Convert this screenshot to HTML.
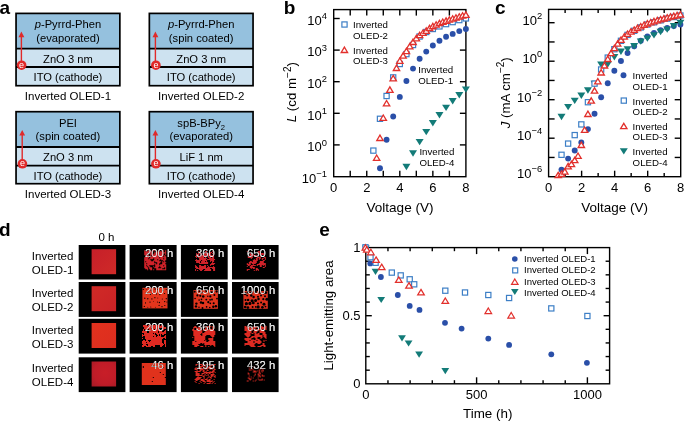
<!DOCTYPE html>
<html><head><meta charset="utf-8"><style>
html,body{margin:0;padding:0;background:#fff;width:685px;height:421px;overflow:hidden}
svg{display:block;will-change:transform}
text{font-family:"Liberation Sans", sans-serif}
</style></head><body>
<svg width="685" height="421" viewBox="0 0 685 421" font-family='"Liberation Sans", sans-serif'>
<rect width="685" height="421" fill="#fff"/>
<text x="-0.60" y="13.90" font-size="19" text-anchor="start" font-weight="bold" fill="#000">a</text>
<text x="283.70" y="13.90" font-size="19" text-anchor="start" font-weight="bold" fill="#000">b</text>
<text x="495.00" y="13.90" font-size="19" text-anchor="start" font-weight="bold" fill="#000">c</text>
<text x="-0.90" y="235.70" font-size="19" text-anchor="start" font-weight="bold" fill="#000">d</text>
<text x="319.20" y="236.10" font-size="19" text-anchor="start" font-weight="bold" fill="#000">e</text>
<rect x="16.05" y="13.4" width="103.8" height="35.2" fill="#95c1de"/>
<rect x="16.05" y="48.6" width="103.8" height="37.1" fill="#cde2f0"/>
<rect x="16.05" y="13.4" width="103.8" height="72.3" fill="none" stroke="#000" stroke-width="1.7"/>
<line x1="16.05" y1="48.60" x2="119.85" y2="48.60" stroke="#000" stroke-width="1.8"/>
<line x1="16.05" y1="67.00" x2="119.85" y2="67.00" stroke="#000" stroke-width="1.8"/>
<text x="67.95" y="28.20" font-size="11.2" text-anchor="middle" fill="#000"><tspan font-style="italic">p</tspan>-Pyrrd-Phen</text>
<text x="67.95" y="42.10" font-size="11.2" text-anchor="middle" fill="#000">(evaporated)</text>
<text x="67.95" y="62.50" font-size="11.2" text-anchor="middle" fill="#000">ZnO 3 nm</text>
<text x="67.95" y="81.00" font-size="11.2" text-anchor="middle" fill="#000">ITO (cathode)</text>
<text x="67.95" y="99.80" font-size="11.5" text-anchor="middle" fill="#000">Inverted OLED-1</text>
<line x1="21.40" y1="65.20" x2="21.40" y2="35.40" stroke="#e02a2a" stroke-width="1.4"/>
<path d="M18.50,37.20 L21.40,31.60 L24.30,37.20 Z" fill="#e02a2a"/>
<circle cx="21.60" cy="65.20" r="4.8" fill="#e02a2a"/>
<text x="21.60" y="67.70" font-size="9" text-anchor="middle" fill="#fff">e</text>
<rect x="149.35" y="13.4" width="103.70000000000002" height="35.2" fill="#95c1de"/>
<rect x="149.35" y="48.6" width="103.70000000000002" height="37.1" fill="#cde2f0"/>
<rect x="149.35" y="13.4" width="103.70000000000002" height="72.3" fill="none" stroke="#000" stroke-width="1.7"/>
<line x1="149.35" y1="48.60" x2="253.05" y2="48.60" stroke="#000" stroke-width="1.8"/>
<line x1="149.35" y1="67.00" x2="253.05" y2="67.00" stroke="#000" stroke-width="1.8"/>
<text x="201.20" y="28.20" font-size="11.2" text-anchor="middle" fill="#000"><tspan font-style="italic">p</tspan>-Pyrrd-Phen</text>
<text x="201.20" y="42.10" font-size="11.2" text-anchor="middle" fill="#000">(spin coated)</text>
<text x="201.20" y="62.50" font-size="11.2" text-anchor="middle" fill="#000">ZnO 3 nm</text>
<text x="201.20" y="81.00" font-size="11.2" text-anchor="middle" fill="#000">ITO (cathode)</text>
<text x="201.20" y="99.80" font-size="11.5" text-anchor="middle" fill="#000">Inverted OLED-2</text>
<line x1="155.40" y1="65.20" x2="155.40" y2="35.40" stroke="#e02a2a" stroke-width="1.4"/>
<path d="M152.50,37.20 L155.40,31.60 L158.30,37.20 Z" fill="#e02a2a"/>
<circle cx="155.90" cy="65.20" r="4.8" fill="#e02a2a"/>
<text x="155.90" y="67.70" font-size="9" text-anchor="middle" fill="#fff">e</text>
<rect x="16.05" y="111.7" width="103.8" height="35.3" fill="#95c1de"/>
<rect x="16.05" y="147.0" width="103.8" height="36.69999999999999" fill="#cde2f0"/>
<rect x="16.05" y="111.7" width="103.8" height="71.99999999999999" fill="none" stroke="#000" stroke-width="1.7"/>
<line x1="16.05" y1="147.00" x2="119.85" y2="147.00" stroke="#000" stroke-width="1.8"/>
<line x1="16.05" y1="165.60" x2="119.85" y2="165.60" stroke="#000" stroke-width="1.8"/>
<text x="67.95" y="126.50" font-size="11.2" text-anchor="middle" fill="#000">PEI</text>
<text x="67.95" y="140.40" font-size="11.2" text-anchor="middle" fill="#000">(spin coated)</text>
<text x="67.95" y="160.90" font-size="11.2" text-anchor="middle" fill="#000">ZnO 3 nm</text>
<text x="67.95" y="179.60" font-size="11.2" text-anchor="middle" fill="#000">ITO (cathode)</text>
<text x="67.95" y="197.80" font-size="11.5" text-anchor="middle" fill="#000">Inverted OLED-3</text>
<line x1="22.20" y1="163.80" x2="22.20" y2="133.70" stroke="#e02a2a" stroke-width="1.4"/>
<path d="M19.30,135.50 L22.20,129.90 L25.10,135.50 Z" fill="#e02a2a"/>
<circle cx="22.40" cy="163.80" r="4.8" fill="#e02a2a"/>
<text x="22.40" y="166.30" font-size="9" text-anchor="middle" fill="#fff">e</text>
<rect x="149.35" y="111.7" width="103.70000000000002" height="35.3" fill="#95c1de"/>
<rect x="149.35" y="147.0" width="103.70000000000002" height="36.69999999999999" fill="#cde2f0"/>
<rect x="149.35" y="111.7" width="103.70000000000002" height="71.99999999999999" fill="none" stroke="#000" stroke-width="1.7"/>
<line x1="149.35" y1="147.00" x2="253.05" y2="147.00" stroke="#000" stroke-width="1.8"/>
<line x1="149.35" y1="165.60" x2="253.05" y2="165.60" stroke="#000" stroke-width="1.8"/>
<text x="201.20" y="126.50" font-size="11.2" text-anchor="middle" fill="#000">spB-BPy<tspan font-size="7.6" dy="3.2">2</tspan></text>
<text x="201.20" y="140.40" font-size="11.2" text-anchor="middle" fill="#000">(evaporated)</text>
<text x="201.20" y="160.90" font-size="11.2" text-anchor="middle" fill="#000">LiF 1 nm</text>
<text x="201.20" y="179.60" font-size="11.2" text-anchor="middle" fill="#000">ITO (cathode)</text>
<text x="201.20" y="197.80" font-size="11.5" text-anchor="middle" fill="#000">Inverted OLED-4</text>
<line x1="155.40" y1="163.80" x2="155.40" y2="133.70" stroke="#e02a2a" stroke-width="1.4"/>
<path d="M152.50,135.50 L155.40,129.90 L158.30,135.50 Z" fill="#e02a2a"/>
<circle cx="155.90" cy="163.80" r="4.8" fill="#e02a2a"/>
<text x="155.90" y="166.30" font-size="9" text-anchor="middle" fill="#fff">e</text>
<rect x="333.7" y="9.6" width="132.2" height="167.1" fill="none" stroke="#000" stroke-width="1.4"/>
<text x="327.0" y="182.80" font-size="13" text-anchor="end">10<tspan font-size="9.4" dy="-5.7">−1</tspan></text>
<line x1="333.70" y1="144.90" x2="339.70" y2="144.90" stroke="#000" stroke-width="1.4"/>
<line x1="459.90" y1="144.90" x2="465.90" y2="144.90" stroke="#000" stroke-width="1.4"/>
<text x="327.0" y="151.20" font-size="13" text-anchor="end">10<tspan font-size="9.4" dy="-5.7">0</tspan></text>
<line x1="333.70" y1="113.30" x2="339.70" y2="113.30" stroke="#000" stroke-width="1.4"/>
<line x1="459.90" y1="113.30" x2="465.90" y2="113.30" stroke="#000" stroke-width="1.4"/>
<text x="327.0" y="119.60" font-size="13" text-anchor="end">10<tspan font-size="9.4" dy="-5.7">1</tspan></text>
<line x1="333.70" y1="81.70" x2="339.70" y2="81.70" stroke="#000" stroke-width="1.4"/>
<line x1="459.90" y1="81.70" x2="465.90" y2="81.70" stroke="#000" stroke-width="1.4"/>
<text x="327.0" y="88.00" font-size="13" text-anchor="end">10<tspan font-size="9.4" dy="-5.7">2</tspan></text>
<line x1="333.70" y1="50.10" x2="339.70" y2="50.10" stroke="#000" stroke-width="1.4"/>
<line x1="459.90" y1="50.10" x2="465.90" y2="50.10" stroke="#000" stroke-width="1.4"/>
<text x="327.0" y="56.40" font-size="13" text-anchor="end">10<tspan font-size="9.4" dy="-5.7">3</tspan></text>
<line x1="333.70" y1="18.50" x2="339.70" y2="18.50" stroke="#000" stroke-width="1.4"/>
<line x1="459.90" y1="18.50" x2="465.90" y2="18.50" stroke="#000" stroke-width="1.4"/>
<text x="327.0" y="24.80" font-size="13" text-anchor="end">10<tspan font-size="9.4" dy="-5.7">4</tspan></text>
<line x1="350.22" y1="176.70" x2="350.22" y2="170.70" stroke="#000" stroke-width="1.4"/>
<line x1="350.22" y1="9.60" x2="350.22" y2="15.60" stroke="#000" stroke-width="1.4"/>
<line x1="366.75" y1="176.70" x2="366.75" y2="170.70" stroke="#000" stroke-width="1.4"/>
<line x1="366.75" y1="9.60" x2="366.75" y2="15.60" stroke="#000" stroke-width="1.4"/>
<line x1="383.27" y1="176.70" x2="383.27" y2="170.70" stroke="#000" stroke-width="1.4"/>
<line x1="383.27" y1="9.60" x2="383.27" y2="15.60" stroke="#000" stroke-width="1.4"/>
<line x1="399.80" y1="176.70" x2="399.80" y2="170.70" stroke="#000" stroke-width="1.4"/>
<line x1="399.80" y1="9.60" x2="399.80" y2="15.60" stroke="#000" stroke-width="1.4"/>
<line x1="416.32" y1="176.70" x2="416.32" y2="170.70" stroke="#000" stroke-width="1.4"/>
<line x1="416.32" y1="9.60" x2="416.32" y2="15.60" stroke="#000" stroke-width="1.4"/>
<line x1="432.85" y1="176.70" x2="432.85" y2="170.70" stroke="#000" stroke-width="1.4"/>
<line x1="432.85" y1="9.60" x2="432.85" y2="15.60" stroke="#000" stroke-width="1.4"/>
<line x1="449.38" y1="176.70" x2="449.38" y2="170.70" stroke="#000" stroke-width="1.4"/>
<line x1="449.38" y1="9.60" x2="449.38" y2="15.60" stroke="#000" stroke-width="1.4"/>
<path d="M402.41,163.80 L410.41,163.80 L406.41,170.20 Z" fill="#137b78"/>
<path d="M409.02,150.30 L417.02,150.30 L413.02,156.70 Z" fill="#137b78"/>
<path d="M415.63,138.90 L423.63,138.90 L419.63,145.30 Z" fill="#137b78"/>
<path d="M422.24,128.90 L430.24,128.90 L426.24,135.30 Z" fill="#137b78"/>
<path d="M428.85,120.10 L436.85,120.10 L432.85,126.50 Z" fill="#137b78"/>
<path d="M435.46,112.00 L443.46,112.00 L439.46,118.40 Z" fill="#137b78"/>
<path d="M442.07,104.70 L450.07,104.70 L446.07,111.10 Z" fill="#137b78"/>
<path d="M448.68,98.10 L456.68,98.10 L452.68,104.50 Z" fill="#137b78"/>
<path d="M455.29,92.10 L463.29,92.10 L459.29,98.50 Z" fill="#137b78"/>
<path d="M461.90,86.40 L469.90,86.40 L465.90,92.80 Z" fill="#137b78"/>
<circle cx="379.97" cy="168.20" r="2.95" fill="#2a4fa8"/>
<circle cx="386.58" cy="139.70" r="2.95" fill="#2a4fa8"/>
<circle cx="393.19" cy="116.50" r="2.95" fill="#2a4fa8"/>
<circle cx="399.80" cy="96.90" r="2.95" fill="#2a4fa8"/>
<circle cx="406.41" cy="81.00" r="2.95" fill="#2a4fa8"/>
<circle cx="413.02" cy="68.60" r="2.95" fill="#2a4fa8"/>
<circle cx="419.63" cy="58.80" r="2.95" fill="#2a4fa8"/>
<circle cx="426.24" cy="51.60" r="2.95" fill="#2a4fa8"/>
<circle cx="432.85" cy="45.50" r="2.95" fill="#2a4fa8"/>
<circle cx="439.46" cy="40.80" r="2.95" fill="#2a4fa8"/>
<circle cx="446.07" cy="36.80" r="2.95" fill="#2a4fa8"/>
<circle cx="452.68" cy="33.90" r="2.95" fill="#2a4fa8"/>
<circle cx="459.29" cy="31.10" r="2.95" fill="#2a4fa8"/>
<circle cx="465.90" cy="29.00" r="2.95" fill="#2a4fa8"/>
<rect x="370.76" y="148.00" width="5.2" height="5.2" fill="#fff" stroke="#3d7fc6" stroke-width="1.2"/>
<rect x="377.37" y="116.20" width="5.2" height="5.2" fill="#fff" stroke="#3d7fc6" stroke-width="1.2"/>
<rect x="383.98" y="93.40" width="5.2" height="5.2" fill="#fff" stroke="#3d7fc6" stroke-width="1.2"/>
<rect x="390.59" y="74.80" width="5.2" height="5.2" fill="#fff" stroke="#3d7fc6" stroke-width="1.2"/>
<rect x="397.20" y="61.40" width="5.2" height="5.2" fill="#fff" stroke="#3d7fc6" stroke-width="1.2"/>
<rect x="403.81" y="51.50" width="5.2" height="5.2" fill="#fff" stroke="#3d7fc6" stroke-width="1.2"/>
<rect x="410.42" y="42.40" width="5.2" height="5.2" fill="#fff" stroke="#3d7fc6" stroke-width="1.2"/>
<rect x="417.03" y="33.90" width="5.2" height="5.2" fill="#fff" stroke="#3d7fc6" stroke-width="1.2"/>
<rect x="423.64" y="29.40" width="5.2" height="5.2" fill="#fff" stroke="#3d7fc6" stroke-width="1.2"/>
<rect x="430.25" y="26.40" width="5.2" height="5.2" fill="#fff" stroke="#3d7fc6" stroke-width="1.2"/>
<rect x="436.86" y="23.80" width="5.2" height="5.2" fill="#fff" stroke="#3d7fc6" stroke-width="1.2"/>
<rect x="443.47" y="21.50" width="5.2" height="5.2" fill="#fff" stroke="#3d7fc6" stroke-width="1.2"/>
<rect x="450.08" y="19.50" width="5.2" height="5.2" fill="#fff" stroke="#3d7fc6" stroke-width="1.2"/>
<rect x="456.69" y="17.50" width="5.2" height="5.2" fill="#fff" stroke="#3d7fc6" stroke-width="1.2"/>
<rect x="463.30" y="15.80" width="5.2" height="5.2" fill="#fff" stroke="#3d7fc6" stroke-width="1.2"/>
<path d="M376.66,155.00 L379.86,160.40 L373.46,160.40 Z" fill="#fff" stroke="#e2302c" stroke-width="1.3" stroke-linejoin="miter"/>
<path d="M379.97,135.10 L383.17,140.50 L376.77,140.50 Z" fill="#fff" stroke="#e2302c" stroke-width="1.3" stroke-linejoin="miter"/>
<path d="M383.27,115.00 L386.47,120.40 L380.07,120.40 Z" fill="#fff" stroke="#e2302c" stroke-width="1.3" stroke-linejoin="miter"/>
<path d="M386.58,100.50 L389.78,105.90 L383.38,105.90 Z" fill="#fff" stroke="#e2302c" stroke-width="1.3" stroke-linejoin="miter"/>
<path d="M389.88,86.90 L393.08,92.30 L386.69,92.30 Z" fill="#fff" stroke="#e2302c" stroke-width="1.3" stroke-linejoin="miter"/>
<path d="M393.19,75.40 L396.39,80.80 L389.99,80.80 Z" fill="#fff" stroke="#e2302c" stroke-width="1.3" stroke-linejoin="miter"/>
<path d="M396.50,65.10 L399.69,70.50 L393.30,70.50 Z" fill="#fff" stroke="#e2302c" stroke-width="1.3" stroke-linejoin="miter"/>
<path d="M399.80,58.00 L403.00,63.40 L396.60,63.40 Z" fill="#fff" stroke="#e2302c" stroke-width="1.3" stroke-linejoin="miter"/>
<path d="M403.11,52.80 L406.31,58.20 L399.91,58.20 Z" fill="#fff" stroke="#e2302c" stroke-width="1.3" stroke-linejoin="miter"/>
<path d="M406.41,48.20 L409.61,53.60 L403.21,53.60 Z" fill="#fff" stroke="#e2302c" stroke-width="1.3" stroke-linejoin="miter"/>
<path d="M409.71,43.44 L412.91,48.84 L406.51,48.84 Z" fill="#fff" stroke="#e2302c" stroke-width="1.3" stroke-linejoin="miter"/>
<path d="M413.02,39.10 L416.22,44.50 L409.82,44.50 Z" fill="#fff" stroke="#e2302c" stroke-width="1.3" stroke-linejoin="miter"/>
<path d="M416.32,35.39 L419.52,40.79 L413.12,40.79 Z" fill="#fff" stroke="#e2302c" stroke-width="1.3" stroke-linejoin="miter"/>
<path d="M419.63,32.30 L422.83,37.70 L416.43,37.70 Z" fill="#fff" stroke="#e2302c" stroke-width="1.3" stroke-linejoin="miter"/>
<path d="M422.94,30.03 L426.13,35.43 L419.74,35.43 Z" fill="#fff" stroke="#e2302c" stroke-width="1.3" stroke-linejoin="miter"/>
<path d="M426.24,27.90 L429.44,33.30 L423.04,33.30 Z" fill="#fff" stroke="#e2302c" stroke-width="1.3" stroke-linejoin="miter"/>
<path d="M429.54,25.30 L432.74,30.70 L426.34,30.70 Z" fill="#fff" stroke="#e2302c" stroke-width="1.3" stroke-linejoin="miter"/>
<path d="M432.85,23.37 L436.05,28.77 L429.65,28.77 Z" fill="#fff" stroke="#e2302c" stroke-width="1.3" stroke-linejoin="miter"/>
<path d="M436.15,21.74 L439.35,27.14 L432.95,27.14 Z" fill="#fff" stroke="#e2302c" stroke-width="1.3" stroke-linejoin="miter"/>
<path d="M439.46,20.30 L442.66,25.70 L436.26,25.70 Z" fill="#fff" stroke="#e2302c" stroke-width="1.3" stroke-linejoin="miter"/>
<path d="M442.76,19.03 L445.96,24.43 L439.56,24.43 Z" fill="#fff" stroke="#e2302c" stroke-width="1.3" stroke-linejoin="miter"/>
<path d="M446.07,17.90 L449.27,23.30 L442.87,23.30 Z" fill="#fff" stroke="#e2302c" stroke-width="1.3" stroke-linejoin="miter"/>
<path d="M449.38,16.80 L452.57,22.20 L446.18,22.20 Z" fill="#fff" stroke="#e2302c" stroke-width="1.3" stroke-linejoin="miter"/>
<path d="M452.68,15.74 L455.88,21.14 L449.48,21.14 Z" fill="#fff" stroke="#e2302c" stroke-width="1.3" stroke-linejoin="miter"/>
<path d="M455.99,14.71 L459.19,20.11 L452.79,20.11 Z" fill="#fff" stroke="#e2302c" stroke-width="1.3" stroke-linejoin="miter"/>
<path d="M459.29,13.72 L462.49,19.12 L456.09,19.12 Z" fill="#fff" stroke="#e2302c" stroke-width="1.3" stroke-linejoin="miter"/>
<path d="M462.59,12.78 L465.79,18.18 L459.39,18.18 Z" fill="#fff" stroke="#e2302c" stroke-width="1.3" stroke-linejoin="miter"/>
<path d="M465.90,11.90 L469.10,17.30 L462.70,17.30 Z" fill="#fff" stroke="#e2302c" stroke-width="1.3" stroke-linejoin="miter"/>
<text x="333.70" y="192.40" font-size="13" text-anchor="middle" fill="#000">0</text>
<text x="366.75" y="192.40" font-size="13" text-anchor="middle" fill="#000">2</text>
<text x="399.80" y="192.40" font-size="13" text-anchor="middle" fill="#000">4</text>
<text x="432.85" y="192.40" font-size="13" text-anchor="middle" fill="#000">6</text>
<text x="465.90" y="192.40" font-size="13" text-anchor="middle" fill="#000">8</text>
<text x="400.00" y="211.70" font-size="13.55" text-anchor="middle" fill="#000">Voltage (V)</text>
<text transform="translate(296.2,92.2) rotate(-90)" font-size="13.3" text-anchor="middle"><tspan font-style="italic">L</tspan> (cd m<tspan font-size="10" dy="-5.6">−2</tspan><tspan dy="5.6">)</tspan></text>
<rect x="341.90" y="21.90" width="5.2" height="5.2" fill="#fff" stroke="#3d7fc6" stroke-width="1.2"/>
<text x="353.00" y="27.80" font-size="9.7" text-anchor="start" fill="#000">Inverted</text>
<text x="353.00" y="39.00" font-size="9.7" text-anchor="start" fill="#000">OLED-2</text>
<path d="M344.40,47.10 L347.60,52.50 L341.20,52.50 Z" fill="#fff" stroke="#e2302c" stroke-width="1.3" stroke-linejoin="miter"/>
<text x="353.00" y="53.50" font-size="9.7" text-anchor="start" fill="#000">Inverted</text>
<text x="353.00" y="64.20" font-size="9.7" text-anchor="start" fill="#000">OLED-3</text>
<text x="418.20" y="72.60" font-size="9.7" text-anchor="start" fill="#000">Inverted</text>
<text x="418.20" y="84.10" font-size="9.7" text-anchor="start" fill="#000">OLED-1</text>
<text x="419.40" y="154.90" font-size="9.7" text-anchor="start" fill="#000">Inverted</text>
<text x="419.40" y="165.90" font-size="9.7" text-anchor="start" fill="#000">OLED-4</text>
<rect x="548.6" y="9.4" width="132.10000000000002" height="167.29999999999998" fill="none" stroke="#000" stroke-width="1.4"/>
<line x1="548.60" y1="157.45" x2="554.60" y2="157.45" stroke="#000" stroke-width="1.4"/>
<line x1="674.70" y1="157.45" x2="680.70" y2="157.45" stroke="#000" stroke-width="1.4"/>
<line x1="548.60" y1="138.20" x2="554.60" y2="138.20" stroke="#000" stroke-width="1.4"/>
<line x1="674.70" y1="138.20" x2="680.70" y2="138.20" stroke="#000" stroke-width="1.4"/>
<line x1="548.60" y1="118.95" x2="554.60" y2="118.95" stroke="#000" stroke-width="1.4"/>
<line x1="674.70" y1="118.95" x2="680.70" y2="118.95" stroke="#000" stroke-width="1.4"/>
<line x1="548.60" y1="99.70" x2="554.60" y2="99.70" stroke="#000" stroke-width="1.4"/>
<line x1="674.70" y1="99.70" x2="680.70" y2="99.70" stroke="#000" stroke-width="1.4"/>
<line x1="548.60" y1="80.45" x2="554.60" y2="80.45" stroke="#000" stroke-width="1.4"/>
<line x1="674.70" y1="80.45" x2="680.70" y2="80.45" stroke="#000" stroke-width="1.4"/>
<line x1="548.60" y1="61.20" x2="554.60" y2="61.20" stroke="#000" stroke-width="1.4"/>
<line x1="674.70" y1="61.20" x2="680.70" y2="61.20" stroke="#000" stroke-width="1.4"/>
<line x1="548.60" y1="41.95" x2="554.60" y2="41.95" stroke="#000" stroke-width="1.4"/>
<line x1="674.70" y1="41.95" x2="680.70" y2="41.95" stroke="#000" stroke-width="1.4"/>
<line x1="548.60" y1="22.70" x2="554.60" y2="22.70" stroke="#000" stroke-width="1.4"/>
<line x1="674.70" y1="22.70" x2="680.70" y2="22.70" stroke="#000" stroke-width="1.4"/>
<text x="542.2" y="24.50" font-size="13" text-anchor="end">10<tspan font-size="9.4" dy="-5.7">2</tspan></text>
<text x="542.2" y="63.00" font-size="13" text-anchor="end">10<tspan font-size="9.4" dy="-5.7">0</tspan></text>
<text x="542.2" y="101.50" font-size="13" text-anchor="end">10<tspan font-size="9.4" dy="-5.7">−2</tspan></text>
<text x="542.2" y="140.00" font-size="13" text-anchor="end">10<tspan font-size="9.4" dy="-5.7">−4</tspan></text>
<text x="542.2" y="177.50" font-size="13" text-anchor="end">10<tspan font-size="9.4" dy="-5.7">−6</tspan></text>
<line x1="565.11" y1="176.70" x2="565.11" y2="173.10" stroke="#000" stroke-width="1.4"/>
<line x1="565.11" y1="9.40" x2="565.11" y2="13.00" stroke="#000" stroke-width="1.4"/>
<line x1="581.62" y1="176.70" x2="581.62" y2="170.70" stroke="#000" stroke-width="1.4"/>
<line x1="581.62" y1="9.40" x2="581.62" y2="15.40" stroke="#000" stroke-width="1.4"/>
<line x1="598.14" y1="176.70" x2="598.14" y2="173.10" stroke="#000" stroke-width="1.4"/>
<line x1="598.14" y1="9.40" x2="598.14" y2="13.00" stroke="#000" stroke-width="1.4"/>
<line x1="614.65" y1="176.70" x2="614.65" y2="170.70" stroke="#000" stroke-width="1.4"/>
<line x1="614.65" y1="9.40" x2="614.65" y2="15.40" stroke="#000" stroke-width="1.4"/>
<line x1="631.16" y1="176.70" x2="631.16" y2="173.10" stroke="#000" stroke-width="1.4"/>
<line x1="631.16" y1="9.40" x2="631.16" y2="13.00" stroke="#000" stroke-width="1.4"/>
<line x1="647.68" y1="176.70" x2="647.68" y2="170.70" stroke="#000" stroke-width="1.4"/>
<line x1="647.68" y1="9.40" x2="647.68" y2="15.40" stroke="#000" stroke-width="1.4"/>
<line x1="664.19" y1="176.70" x2="664.19" y2="173.10" stroke="#000" stroke-width="1.4"/>
<line x1="664.19" y1="9.40" x2="664.19" y2="13.00" stroke="#000" stroke-width="1.4"/>
<circle cx="561.51" cy="169.60" r="2.95" fill="#2a4fa8"/>
<circle cx="568.12" cy="158.60" r="2.95" fill="#2a4fa8"/>
<circle cx="574.72" cy="150.50" r="2.95" fill="#2a4fa8"/>
<circle cx="581.33" cy="142.50" r="2.95" fill="#2a4fa8"/>
<circle cx="587.93" cy="129.10" r="2.95" fill="#2a4fa8"/>
<circle cx="594.54" cy="113.80" r="2.95" fill="#2a4fa8"/>
<circle cx="601.14" cy="97.20" r="2.95" fill="#2a4fa8"/>
<circle cx="607.75" cy="83.20" r="2.95" fill="#2a4fa8"/>
<circle cx="614.35" cy="70.80" r="2.95" fill="#2a4fa8"/>
<circle cx="620.96" cy="61.00" r="2.95" fill="#2a4fa8"/>
<circle cx="627.56" cy="53.00" r="2.95" fill="#2a4fa8"/>
<circle cx="634.17" cy="46.30" r="2.95" fill="#2a4fa8"/>
<circle cx="640.77" cy="40.80" r="2.95" fill="#2a4fa8"/>
<circle cx="647.38" cy="36.40" r="2.95" fill="#2a4fa8"/>
<circle cx="653.98" cy="33.00" r="2.95" fill="#2a4fa8"/>
<circle cx="660.59" cy="30.30" r="2.95" fill="#2a4fa8"/>
<circle cx="667.19" cy="28.00" r="2.95" fill="#2a4fa8"/>
<circle cx="673.80" cy="26.00" r="2.95" fill="#2a4fa8"/>
<circle cx="680.40" cy="24.50" r="2.95" fill="#2a4fa8"/>
<path d="M557.51,113.80 L565.51,113.80 L561.51,120.20 Z" fill="#137b78"/>
<path d="M564.12,103.90 L572.12,103.90 L568.12,110.30 Z" fill="#137b78"/>
<path d="M570.72,97.70 L578.72,97.70 L574.72,104.10 Z" fill="#137b78"/>
<path d="M577.33,92.50 L585.33,92.50 L581.33,98.90 Z" fill="#137b78"/>
<path d="M583.93,87.30 L591.93,87.30 L587.93,93.70 Z" fill="#137b78"/>
<path d="M590.54,80.80 L598.54,80.80 L594.54,87.20 Z" fill="#137b78"/>
<path d="M597.14,61.50 L605.14,61.50 L601.14,67.90 Z" fill="#137b78"/>
<path d="M603.75,61.30 L611.75,61.30 L607.75,67.70 Z" fill="#137b78"/>
<path d="M610.35,54.10 L618.35,54.10 L614.35,60.50 Z" fill="#137b78"/>
<path d="M616.96,48.60 L624.96,48.60 L620.96,55.00 Z" fill="#137b78"/>
<path d="M623.56,46.20 L631.56,46.20 L627.56,52.60 Z" fill="#137b78"/>
<path d="M630.17,43.00 L638.17,43.00 L634.17,49.40 Z" fill="#137b78"/>
<path d="M636.77,38.40 L644.77,38.40 L640.77,44.80 Z" fill="#137b78"/>
<path d="M643.38,35.40 L651.38,35.40 L647.38,41.80 Z" fill="#137b78"/>
<path d="M649.98,32.20 L657.98,32.20 L653.98,38.60 Z" fill="#137b78"/>
<path d="M656.59,28.80 L664.59,28.80 L660.59,35.20 Z" fill="#137b78"/>
<path d="M663.19,26.40 L671.19,26.40 L667.19,32.80 Z" fill="#137b78"/>
<path d="M669.80,23.00 L677.80,23.00 L673.80,29.40 Z" fill="#137b78"/>
<path d="M676.40,19.80 L684.40,19.80 L680.40,26.20 Z" fill="#137b78"/>
<rect x="558.91" y="152.20" width="5.2" height="5.2" fill="#fff" stroke="#3d7fc6" stroke-width="1.2"/>
<rect x="565.52" y="141.00" width="5.2" height="5.2" fill="#fff" stroke="#3d7fc6" stroke-width="1.2"/>
<rect x="572.12" y="132.50" width="5.2" height="5.2" fill="#fff" stroke="#3d7fc6" stroke-width="1.2"/>
<rect x="578.73" y="121.80" width="5.2" height="5.2" fill="#fff" stroke="#3d7fc6" stroke-width="1.2"/>
<rect x="585.33" y="99.60" width="5.2" height="5.2" fill="#fff" stroke="#3d7fc6" stroke-width="1.2"/>
<rect x="591.94" y="81.00" width="5.2" height="5.2" fill="#fff" stroke="#3d7fc6" stroke-width="1.2"/>
<rect x="598.54" y="66.90" width="5.2" height="5.2" fill="#fff" stroke="#3d7fc6" stroke-width="1.2"/>
<rect x="605.15" y="55.00" width="5.2" height="5.2" fill="#fff" stroke="#3d7fc6" stroke-width="1.2"/>
<rect x="611.75" y="46.60" width="5.2" height="5.2" fill="#fff" stroke="#3d7fc6" stroke-width="1.2"/>
<rect x="618.36" y="38.20" width="5.2" height="5.2" fill="#fff" stroke="#3d7fc6" stroke-width="1.2"/>
<rect x="624.96" y="32.30" width="5.2" height="5.2" fill="#fff" stroke="#3d7fc6" stroke-width="1.2"/>
<rect x="631.57" y="28.20" width="5.2" height="5.2" fill="#fff" stroke="#3d7fc6" stroke-width="1.2"/>
<rect x="638.17" y="24.80" width="5.2" height="5.2" fill="#fff" stroke="#3d7fc6" stroke-width="1.2"/>
<rect x="644.78" y="21.90" width="5.2" height="5.2" fill="#fff" stroke="#3d7fc6" stroke-width="1.2"/>
<rect x="651.38" y="19.70" width="5.2" height="5.2" fill="#fff" stroke="#3d7fc6" stroke-width="1.2"/>
<rect x="657.99" y="17.70" width="5.2" height="5.2" fill="#fff" stroke="#3d7fc6" stroke-width="1.2"/>
<rect x="664.59" y="16.00" width="5.2" height="5.2" fill="#fff" stroke="#3d7fc6" stroke-width="1.2"/>
<rect x="671.20" y="14.40" width="5.2" height="5.2" fill="#fff" stroke="#3d7fc6" stroke-width="1.2"/>
<rect x="677.80" y="12.90" width="5.2" height="5.2" fill="#fff" stroke="#3d7fc6" stroke-width="1.2"/>
<path d="M558.21,172.30 L561.41,177.70 L555.01,177.70 Z" fill="#fff" stroke="#e2302c" stroke-width="1.3" stroke-linejoin="miter"/>
<path d="M561.51,170.90 L564.71,176.30 L558.31,176.30 Z" fill="#fff" stroke="#e2302c" stroke-width="1.3" stroke-linejoin="miter"/>
<path d="M564.81,168.70 L568.01,174.10 L561.61,174.10 Z" fill="#fff" stroke="#e2302c" stroke-width="1.3" stroke-linejoin="miter"/>
<path d="M568.12,163.40 L571.32,168.80 L564.92,168.80 Z" fill="#fff" stroke="#e2302c" stroke-width="1.3" stroke-linejoin="miter"/>
<path d="M571.42,161.20 L574.62,166.60 L568.22,166.60 Z" fill="#fff" stroke="#e2302c" stroke-width="1.3" stroke-linejoin="miter"/>
<path d="M574.72,157.30 L577.92,162.70 L571.52,162.70 Z" fill="#fff" stroke="#e2302c" stroke-width="1.3" stroke-linejoin="miter"/>
<path d="M578.02,153.00 L581.22,158.40 L574.82,158.40 Z" fill="#fff" stroke="#e2302c" stroke-width="1.3" stroke-linejoin="miter"/>
<path d="M581.33,142.10 L584.53,147.50 L578.12,147.50 Z" fill="#fff" stroke="#e2302c" stroke-width="1.3" stroke-linejoin="miter"/>
<path d="M584.63,127.00 L587.83,132.40 L581.43,132.40 Z" fill="#fff" stroke="#e2302c" stroke-width="1.3" stroke-linejoin="miter"/>
<path d="M587.93,111.10 L591.13,116.50 L584.73,116.50 Z" fill="#fff" stroke="#e2302c" stroke-width="1.3" stroke-linejoin="miter"/>
<path d="M591.23,97.80 L594.43,103.20 L588.03,103.20 Z" fill="#fff" stroke="#e2302c" stroke-width="1.3" stroke-linejoin="miter"/>
<path d="M594.54,87.80 L597.74,93.20 L591.34,93.20 Z" fill="#fff" stroke="#e2302c" stroke-width="1.3" stroke-linejoin="miter"/>
<path d="M597.84,78.50 L601.04,83.90 L594.64,83.90 Z" fill="#fff" stroke="#e2302c" stroke-width="1.3" stroke-linejoin="miter"/>
<path d="M601.14,69.60 L604.34,75.00 L597.94,75.00 Z" fill="#fff" stroke="#e2302c" stroke-width="1.3" stroke-linejoin="miter"/>
<path d="M604.44,62.60 L607.64,68.00 L601.24,68.00 Z" fill="#fff" stroke="#e2302c" stroke-width="1.3" stroke-linejoin="miter"/>
<path d="M607.75,56.10 L610.95,61.50 L604.55,61.50 Z" fill="#fff" stroke="#e2302c" stroke-width="1.3" stroke-linejoin="miter"/>
<path d="M611.05,50.30 L614.25,55.70 L607.85,55.70 Z" fill="#fff" stroke="#e2302c" stroke-width="1.3" stroke-linejoin="miter"/>
<path d="M614.35,45.30 L617.55,50.70 L611.15,50.70 Z" fill="#fff" stroke="#e2302c" stroke-width="1.3" stroke-linejoin="miter"/>
<path d="M617.65,40.80 L620.85,46.20 L614.45,46.20 Z" fill="#fff" stroke="#e2302c" stroke-width="1.3" stroke-linejoin="miter"/>
<path d="M620.96,36.90 L624.16,42.30 L617.75,42.30 Z" fill="#fff" stroke="#e2302c" stroke-width="1.3" stroke-linejoin="miter"/>
<path d="M624.26,33.70 L627.46,39.10 L621.06,39.10 Z" fill="#fff" stroke="#e2302c" stroke-width="1.3" stroke-linejoin="miter"/>
<path d="M627.56,31.00 L630.76,36.40 L624.36,36.40 Z" fill="#fff" stroke="#e2302c" stroke-width="1.3" stroke-linejoin="miter"/>
<path d="M630.86,28.80 L634.06,34.20 L627.66,34.20 Z" fill="#fff" stroke="#e2302c" stroke-width="1.3" stroke-linejoin="miter"/>
<path d="M634.17,26.90 L637.37,32.30 L630.97,32.30 Z" fill="#fff" stroke="#e2302c" stroke-width="1.3" stroke-linejoin="miter"/>
<path d="M637.47,25.10 L640.67,30.50 L634.27,30.50 Z" fill="#fff" stroke="#e2302c" stroke-width="1.3" stroke-linejoin="miter"/>
<path d="M640.77,23.50 L643.97,28.90 L637.57,28.90 Z" fill="#fff" stroke="#e2302c" stroke-width="1.3" stroke-linejoin="miter"/>
<path d="M644.07,21.90 L647.27,27.30 L640.87,27.30 Z" fill="#fff" stroke="#e2302c" stroke-width="1.3" stroke-linejoin="miter"/>
<path d="M647.38,20.60 L650.58,26.00 L644.18,26.00 Z" fill="#fff" stroke="#e2302c" stroke-width="1.3" stroke-linejoin="miter"/>
<path d="M650.68,19.50 L653.88,24.90 L647.48,24.90 Z" fill="#fff" stroke="#e2302c" stroke-width="1.3" stroke-linejoin="miter"/>
<path d="M653.98,18.40 L657.18,23.80 L650.78,23.80 Z" fill="#fff" stroke="#e2302c" stroke-width="1.3" stroke-linejoin="miter"/>
<path d="M657.28,17.40 L660.48,22.80 L654.08,22.80 Z" fill="#fff" stroke="#e2302c" stroke-width="1.3" stroke-linejoin="miter"/>
<path d="M660.59,16.40 L663.79,21.80 L657.38,21.80 Z" fill="#fff" stroke="#e2302c" stroke-width="1.3" stroke-linejoin="miter"/>
<path d="M663.89,15.60 L667.09,21.00 L660.69,21.00 Z" fill="#fff" stroke="#e2302c" stroke-width="1.3" stroke-linejoin="miter"/>
<path d="M667.19,14.70 L670.39,20.10 L663.99,20.10 Z" fill="#fff" stroke="#e2302c" stroke-width="1.3" stroke-linejoin="miter"/>
<path d="M670.49,13.80 L673.69,19.20 L667.29,19.20 Z" fill="#fff" stroke="#e2302c" stroke-width="1.3" stroke-linejoin="miter"/>
<path d="M673.80,13.10 L677.00,18.50 L670.60,18.50 Z" fill="#fff" stroke="#e2302c" stroke-width="1.3" stroke-linejoin="miter"/>
<path d="M677.10,12.40 L680.30,17.80 L673.90,17.80 Z" fill="#fff" stroke="#e2302c" stroke-width="1.3" stroke-linejoin="miter"/>
<path d="M680.40,11.60 L683.60,17.00 L677.20,17.00 Z" fill="#fff" stroke="#e2302c" stroke-width="1.3" stroke-linejoin="miter"/>
<text x="548.60" y="192.40" font-size="13" text-anchor="middle" fill="#000">0</text>
<text x="581.62" y="192.40" font-size="13" text-anchor="middle" fill="#000">2</text>
<text x="614.65" y="192.40" font-size="13" text-anchor="middle" fill="#000">4</text>
<text x="647.68" y="192.40" font-size="13" text-anchor="middle" fill="#000">6</text>
<text x="680.70" y="192.40" font-size="13" text-anchor="middle" fill="#000">8</text>
<text x="614.65" y="211.50" font-size="13.5" text-anchor="middle" fill="#000">Voltage (V)</text>
<text transform="translate(510.0,92.8) rotate(-90)" font-size="13.25" text-anchor="middle"><tspan font-style="italic">J</tspan> (mA cm<tspan font-size="10" dy="-5.6">−2</tspan><tspan dy="5.6">)</tspan></text>
<circle cx="623.50" cy="75.20" r="2.95" fill="#2a4fa8"/>
<text x="632.60" y="79.10" font-size="9.7" text-anchor="start" fill="#000">Inverted</text>
<text x="632.60" y="89.50" font-size="9.7" text-anchor="start" fill="#000">OLED-1</text>
<rect x="621.20" y="98.00" width="5.2" height="5.2" fill="#fff" stroke="#3d7fc6" stroke-width="1.2"/>
<text x="632.60" y="104.50" font-size="9.7" text-anchor="start" fill="#000">Inverted</text>
<text x="632.60" y="114.90" font-size="9.7" text-anchor="start" fill="#000">OLED-2</text>
<path d="M623.80,123.30 L627.00,128.70 L620.60,128.70 Z" fill="#fff" stroke="#e2302c" stroke-width="1.3" stroke-linejoin="miter"/>
<text x="632.60" y="129.90" font-size="9.7" text-anchor="start" fill="#000">Inverted</text>
<text x="632.60" y="140.30" font-size="9.7" text-anchor="start" fill="#000">OLED-3</text>
<path d="M619.80,148.20 L627.80,148.20 L623.80,154.60 Z" fill="#137b78"/>
<text x="632.60" y="155.30" font-size="9.7" text-anchor="start" fill="#000">Inverted</text>
<text x="632.60" y="165.70" font-size="9.7" text-anchor="start" fill="#000">OLED-4</text>
<text x="106.40" y="240.50" font-size="11.5" text-anchor="middle" fill="#000">0 h</text>
<defs><linearGradient id="zg0" x1="0" y1="0" x2="1" y2="1"><stop offset="0" stop-color="#c61f29"/><stop offset="1" stop-color="#cf2a28"/></linearGradient><linearGradient id="zg1" x1="0" y1="0" x2="1" y2="1"><stop offset="0" stop-color="#d02a26"/><stop offset="1" stop-color="#c92226"/></linearGradient><linearGradient id="zg2" x1="0" y1="0" x2="1" y2="1"><stop offset="0" stop-color="#e2321e"/><stop offset="1" stop-color="#dc2d1f"/></linearGradient><radialGradient id="zg3" cx="0.55" cy="0.45" r="0.75"><stop offset="0" stop-color="#c81e28"/><stop offset="0.6" stop-color="#c01c28"/><stop offset="1" stop-color="#a51a26"/></radialGradient></defs>
<text x="73.40" y="259.90" font-size="11.5" text-anchor="end" fill="#000">Inverted</text>
<text x="73.40" y="273.80" font-size="11.5" text-anchor="end" fill="#000">OLED-1</text>
<rect x="78.7" y="245.0" width="46.70" height="34.50" fill="#000"/>
<rect x="91.60" y="249.20" width="24.5" height="25" fill="url(#zg0)"/>
<rect x="129.6" y="245.0" width="47.00" height="34.50" fill="#000"/>
<text x="173.20" y="257.10" font-size="11.3" text-anchor="end" fill="#fff">200 h</text>
<rect x="180.9" y="245.0" width="46.80" height="34.50" fill="#000"/>
<text x="224.30" y="257.10" font-size="11.3" text-anchor="end" fill="#fff">360 h</text>
<rect x="232.0" y="245.0" width="46.60" height="34.50" fill="#000"/>
<text x="275.20" y="257.10" font-size="11.3" text-anchor="end" fill="#fff">650 h</text>
<text x="73.40" y="296.90" font-size="11.5" text-anchor="end" fill="#000">Inverted</text>
<text x="73.40" y="310.80" font-size="11.5" text-anchor="end" fill="#000">OLED-2</text>
<rect x="78.7" y="282.0" width="46.70" height="34.90" fill="#000"/>
<rect x="91.60" y="286.20" width="24.5" height="25" fill="url(#zg1)"/>
<rect x="129.6" y="282.0" width="47.00" height="34.90" fill="#000"/>
<text x="173.20" y="294.10" font-size="11.3" text-anchor="end" fill="#fff">200 h</text>
<rect x="180.9" y="282.0" width="46.80" height="34.90" fill="#000"/>
<text x="224.30" y="294.10" font-size="11.3" text-anchor="end" fill="#fff">650 h</text>
<rect x="232.0" y="282.0" width="46.60" height="34.90" fill="#000"/>
<text x="275.20" y="294.10" font-size="11.3" text-anchor="end" fill="#fff">1000 h</text>
<text x="73.40" y="333.70" font-size="11.5" text-anchor="end" fill="#000">Inverted</text>
<text x="73.40" y="347.60" font-size="11.5" text-anchor="end" fill="#000">OLED-3</text>
<rect x="78.7" y="318.8" width="46.70" height="34.80" fill="#000"/>
<rect x="91.60" y="323.00" width="24.5" height="25" fill="url(#zg2)"/>
<rect x="129.6" y="318.8" width="47.00" height="34.80" fill="#000"/>
<text x="173.20" y="330.90" font-size="11.3" text-anchor="end" fill="#fff">200 h</text>
<rect x="180.9" y="318.8" width="46.80" height="34.80" fill="#000"/>
<text x="224.30" y="330.90" font-size="11.3" text-anchor="end" fill="#fff">360 h</text>
<rect x="232.0" y="318.8" width="46.60" height="34.80" fill="#000"/>
<text x="275.20" y="330.90" font-size="11.3" text-anchor="end" fill="#fff">650 h</text>
<text x="73.40" y="372.20" font-size="11.5" text-anchor="end" fill="#000">Inverted</text>
<text x="73.40" y="386.10" font-size="11.5" text-anchor="end" fill="#000">OLED-4</text>
<rect x="78.7" y="357.3" width="46.70" height="34.80" fill="#000"/>
<rect x="91.60" y="361.50" width="24.5" height="25" fill="url(#zg3)"/>
<rect x="129.6" y="357.3" width="47.00" height="34.80" fill="#000"/>
<text x="173.20" y="369.40" font-size="11.3" text-anchor="end" fill="#fff">46 h</text>
<rect x="180.9" y="357.3" width="46.80" height="34.80" fill="#000"/>
<text x="224.30" y="369.40" font-size="11.3" text-anchor="end" fill="#fff">195 h</text>
<rect x="232.0" y="357.3" width="46.60" height="34.80" fill="#000"/>
<text x="275.20" y="369.40" font-size="11.3" text-anchor="end" fill="#fff">432 h</text>
<defs><filter id="bl" x="-10%" y="-10%" width="120%" height="120%"><feGaussianBlur stdDeviation="0.35"/></filter></defs>
<path d="M144.2 250.2h1v1h-1zM148.2 250.2h1v1h-1zM150.2 250.2h1v1h-1zM152.2 250.2h3v1h-3zM158.2 250.2h1v1h-1zM162.2 250.2h2v1h-2zM165.2 250.2h1v1h-1zM144.2 251.2h5v1h-5zM150.2 251.2h2v1h-2zM157.2 251.2h1v1h-1zM159.2 251.2h4v1h-4zM165.2 251.2h1v1h-1zM144.2 252.2h8v1h-8zM154.2 252.2h12v1h-12zM144.2 253.2h3v1h-3zM150.2 253.2h3v1h-3zM154.2 253.2h10v1h-10zM165.2 253.2h1v1h-1zM144.2 254.2h4v1h-4zM150.2 254.2h13v1h-13zM165.2 254.2h1v1h-1zM145.2 255.2h4v1h-4zM150.2 255.2h1v1h-1zM152.2 255.2h6v1h-6zM159.2 255.2h3v1h-3zM163.2 255.2h2v1h-2zM145.2 256.2h4v1h-4zM150.2 256.2h13v1h-13zM164.2 256.2h2v1h-2zM144.2 257.2h5v1h-5zM150.2 257.2h9v1h-9zM160.2 257.2h6v1h-6zM144.2 258.2h4v1h-4zM149.2 258.2h4v1h-4zM154.2 258.2h9v1h-9zM164.2 258.2h2v1h-2zM144.2 259.2h6v1h-6zM154.2 259.2h3v1h-3zM158.2 259.2h2v1h-2zM161.2 259.2h5v1h-5zM144.2 260.2h7v1h-7zM153.2 260.2h6v1h-6zM163.2 260.2h2v1h-2zM144.2 261.2h1v1h-1zM146.2 261.2h8v1h-8zM155.2 261.2h6v1h-6zM162.2 261.2h1v1h-1zM164.2 261.2h1v1h-1zM144.2 262.2h10v1h-10zM157.2 262.2h3v1h-3zM162.2 262.2h4v1h-4zM144.2 263.2h2v1h-2zM147.2 263.2h9v1h-9zM157.2 263.2h2v1h-2zM162.2 263.2h3v1h-3zM144.2 264.2h10v1h-10zM155.2 264.2h4v1h-4zM160.2 264.2h6v1h-6zM144.2 265.2h2v1h-2zM147.2 265.2h2v1h-2zM155.2 265.2h8v1h-8zM164.2 265.2h2v1h-2zM144.2 266.2h3v1h-3zM148.2 266.2h2v1h-2zM153.2 266.2h1v1h-1zM155.2 266.2h4v1h-4zM160.2 266.2h6v1h-6zM144.2 267.2h4v1h-4zM149.2 267.2h3v1h-3zM154.2 267.2h4v1h-4zM161.2 267.2h3v1h-3zM165.2 267.2h1v1h-1zM145.2 268.2h3v1h-3zM149.2 268.2h3v1h-3zM156.2 268.2h6v1h-6zM165.2 268.2h1v1h-1zM147.2 269.2h1v1h-1zM150.2 269.2h2v1h-2zM153.2 269.2h1v1h-1zM156.2 269.2h10v1h-10z" fill="#cf2329" filter="url(#bl)"/>
<path d="M198.1 251.0h1v1h-1zM205.1 251.0h2v1h-2zM212.1 251.0h1v1h-1zM205.1 252.0h2v1h-2zM209.1 252.0h3v1h-3zM196.1 253.0h1v1h-1zM198.1 253.0h4v1h-4zM204.1 253.0h3v1h-3zM208.1 253.0h3v1h-3zM212.1 253.0h2v1h-2zM196.1 254.0h3v1h-3zM201.1 254.0h1v1h-1zM203.1 254.0h6v1h-6zM210.1 254.0h1v1h-1zM213.1 254.0h1v1h-1zM196.1 255.0h3v1h-3zM200.1 255.0h9v1h-9zM210.1 255.0h4v1h-4zM195.1 256.0h2v1h-2zM198.1 256.0h6v1h-6zM205.1 256.0h1v1h-1zM208.1 256.0h1v1h-1zM210.1 256.0h1v1h-1zM212.1 256.0h2v1h-2zM196.1 257.0h1v1h-1zM198.1 257.0h6v1h-6zM205.1 257.0h1v1h-1zM208.1 257.0h3v1h-3zM212.1 257.0h2v1h-2zM199.1 258.0h8v1h-8zM209.1 258.0h5v1h-5zM196.1 259.0h1v1h-1zM199.1 259.0h7v1h-7zM207.1 259.0h8v1h-8zM195.1 260.0h6v1h-6zM202.1 260.0h5v1h-5zM210.1 260.0h4v1h-4zM196.1 261.0h4v1h-4zM201.1 261.0h4v1h-4zM206.1 261.0h1v1h-1zM210.1 261.0h1v1h-1zM212.1 261.0h2v1h-2zM196.1 262.0h4v1h-4zM201.1 262.0h7v1h-7zM212.1 262.0h1v1h-1zM199.1 263.0h9v1h-9zM211.1 263.0h4v1h-4zM210.1 264.0h4v1h-4zM195.1 265.0h1v1h-1zM199.1 265.0h2v1h-2zM204.1 265.0h2v1h-2zM207.1 265.0h1v1h-1zM210.1 265.0h1v1h-1zM195.1 266.0h2v1h-2zM199.1 266.0h7v1h-7zM208.1 266.0h1v1h-1zM213.1 266.0h1v1h-1zM195.1 267.0h3v1h-3zM199.1 267.0h7v1h-7zM207.1 267.0h8v1h-8zM196.1 268.0h14v1h-14zM212.1 268.0h3v1h-3zM195.1 269.0h1v1h-1zM199.1 269.0h4v1h-4zM205.1 269.0h6v1h-6zM213.1 269.0h2v1h-2zM195.1 270.0h1v1h-1zM197.1 270.0h1v1h-1zM200.1 270.0h2v1h-2zM204.1 270.0h7v1h-7zM213.1 270.0h2v1h-2z" fill="#d0242a" filter="url(#bl)"/>
<path d="M246.8 251.0h1v1h-1zM257.8 251.0h3v1h-3zM249.8 252.0h1v1h-1zM257.8 252.0h2v1h-2zM249.8 253.0h1v1h-1zM258.8 253.0h5v1h-5zM249.8 254.0h4v1h-4zM257.8 254.0h2v1h-2zM260.8 254.0h4v1h-4zM249.8 255.0h4v1h-4zM254.8 255.0h2v1h-2zM247.8 256.0h1v1h-1zM249.8 256.0h3v1h-3zM254.8 256.0h3v1h-3zM259.8 256.0h1v1h-1zM247.8 257.0h5v1h-5zM256.8 257.0h4v1h-4zM263.8 257.0h2v1h-2zM250.8 258.0h1v1h-1zM255.8 258.0h2v1h-2zM258.8 258.0h2v1h-2zM261.8 258.0h2v1h-2zM264.8 258.0h1v1h-1zM253.8 259.0h1v1h-1zM255.8 259.0h2v1h-2zM258.8 259.0h1v1h-1zM261.8 259.0h1v1h-1zM264.8 259.0h1v1h-1zM252.8 260.0h5v1h-5zM262.8 260.0h2v1h-2zM249.8 261.0h2v1h-2zM252.8 261.0h4v1h-4zM259.8 261.0h4v1h-4zM248.8 262.0h8v1h-8zM259.8 262.0h4v1h-4zM246.8 263.0h1v1h-1zM248.8 263.0h2v1h-2zM251.8 263.0h4v1h-4zM258.8 263.0h7v1h-7zM246.8 264.0h4v1h-4zM252.8 264.0h1v1h-1zM256.8 264.0h9v1h-9zM247.8 265.0h2v1h-2zM250.8 265.0h5v1h-5zM256.8 265.0h1v1h-1zM259.8 265.0h2v1h-2zM262.8 265.0h1v1h-1zM264.8 265.0h1v1h-1zM246.8 266.0h1v1h-1zM249.8 266.0h3v1h-3zM259.8 266.0h2v1h-2zM264.8 266.0h1v1h-1zM249.8 267.0h5v1h-5zM262.8 267.0h2v1h-2zM250.8 268.0h1v1h-1zM252.8 268.0h2v1h-2zM255.8 268.0h2v1h-2zM246.8 269.0h3v1h-3zM255.8 269.0h3v1h-3zM246.8 270.0h1v1h-1zM253.8 270.0h1v1h-1zM255.8 270.0h1v1h-1zM257.8 270.0h1v1h-1z" fill="#cf2429" filter="url(#bl)"/>
<path d="M143.0 324.9h4v1h-4zM148.0 324.9h12v1h-12zM161.0 324.9h1v1h-1zM143.0 325.9h8v1h-8zM152.0 325.9h12v1h-12zM144.0 326.9h22v1h-22zM144.0 327.9h7v1h-7zM153.0 327.9h6v1h-6zM162.0 327.9h4v1h-4zM143.0 328.9h1v1h-1zM145.0 328.9h3v1h-3zM149.0 328.9h3v1h-3zM153.0 328.9h1v1h-1zM155.0 328.9h4v1h-4zM163.0 328.9h1v1h-1zM143.0 329.9h1v1h-1zM146.0 329.9h1v1h-1zM149.0 329.9h4v1h-4zM155.0 329.9h7v1h-7zM165.0 329.9h1v1h-1zM142.0 330.9h5v1h-5zM149.0 330.9h9v1h-9zM159.0 330.9h3v1h-3zM164.0 330.9h2v1h-2zM142.0 331.9h5v1h-5zM149.0 331.9h9v1h-9zM159.0 331.9h7v1h-7zM144.0 332.9h9v1h-9zM154.0 332.9h1v1h-1zM156.0 332.9h10v1h-10zM142.0 333.9h1v1h-1zM144.0 333.9h11v1h-11zM157.0 333.9h2v1h-2zM160.0 333.9h1v1h-1zM162.0 333.9h2v1h-2zM142.0 334.9h14v1h-14zM158.0 334.9h1v1h-1zM160.0 334.9h1v1h-1zM165.0 334.9h1v1h-1zM142.0 335.9h1v1h-1zM145.0 335.9h8v1h-8zM154.0 335.9h2v1h-2zM157.0 335.9h4v1h-4zM164.0 335.9h2v1h-2zM145.0 336.9h21v1h-21zM142.0 337.9h1v1h-1zM145.0 337.9h18v1h-18zM165.0 337.9h1v1h-1zM146.0 338.9h16v1h-16zM143.0 339.9h2v1h-2zM146.0 339.9h2v1h-2zM151.0 339.9h11v1h-11zM164.0 339.9h2v1h-2zM142.0 340.9h7v1h-7zM150.0 340.9h12v1h-12zM164.0 340.9h2v1h-2zM142.0 341.9h4v1h-4zM147.0 341.9h15v1h-15zM164.0 341.9h2v1h-2zM142.0 342.9h21v1h-21zM164.0 342.9h2v1h-2zM143.0 343.9h3v1h-3zM148.0 343.9h16v1h-16zM165.0 343.9h1v1h-1zM142.0 344.9h5v1h-5zM148.0 344.9h7v1h-7zM160.0 344.9h3v1h-3zM165.0 344.9h1v1h-1zM142.0 345.9h2v1h-2zM146.0 345.9h5v1h-5zM153.0 345.9h2v1h-2zM160.0 345.9h2v1h-2zM165.0 345.9h1v1h-1z" fill="#e02b20" filter="url(#bl)"/>
<path d="M194.3 326.0h2v1h-2zM198.3 326.0h2v1h-2zM204.3 326.0h2v1h-2zM207.3 326.0h4v1h-4zM212.3 326.0h1v1h-1zM193.3 327.0h4v1h-4zM198.3 327.0h2v1h-2zM205.3 327.0h1v1h-1zM208.3 327.0h2v1h-2zM212.3 327.0h2v1h-2zM193.3 328.0h1v1h-1zM196.3 328.0h5v1h-5zM205.3 328.0h2v1h-2zM209.3 328.0h1v1h-1zM212.3 328.0h2v1h-2zM192.3 329.0h2v1h-2zM196.3 329.0h5v1h-5zM203.3 329.0h4v1h-4zM208.3 329.0h5v1h-5zM192.3 330.0h10v1h-10zM203.3 330.0h11v1h-11zM193.3 331.0h9v1h-9zM205.3 331.0h10v1h-10zM193.3 332.0h9v1h-9zM204.3 332.0h11v1h-11zM193.3 333.0h8v1h-8zM202.3 333.0h13v1h-13zM193.3 334.0h7v1h-7zM202.3 334.0h13v1h-13zM193.3 335.0h8v1h-8zM202.3 335.0h4v1h-4zM210.3 335.0h4v1h-4zM194.3 336.0h11v1h-11zM211.3 336.0h3v1h-3zM192.3 337.0h1v1h-1zM194.3 337.0h11v1h-11zM212.3 337.0h1v1h-1zM194.3 338.0h11v1h-11zM208.3 338.0h5v1h-5zM194.3 339.0h11v1h-11zM208.3 339.0h5v1h-5zM194.3 340.0h10v1h-10zM205.3 340.0h1v1h-1zM209.3 340.0h4v1h-4zM192.3 341.0h3v1h-3zM196.3 341.0h10v1h-10zM208.3 341.0h7v1h-7zM192.3 342.0h23v1h-23zM192.3 343.0h8v1h-8zM202.3 343.0h1v1h-1zM204.3 343.0h11v1h-11zM192.3 344.0h6v1h-6zM204.3 344.0h11v1h-11zM194.3 345.0h5v1h-5zM205.3 345.0h1v1h-1zM210.3 345.0h1v1h-1zM213.3 345.0h2v1h-2zM194.3 346.0h3v1h-3zM200.3 346.0h3v1h-3zM205.3 346.0h1v1h-1zM208.3 346.0h1v1h-1zM214.3 346.0h1v1h-1z" fill="#df2b20" filter="url(#bl)"/>
<path d="M244.5 326.0h2v1h-2zM247.5 326.0h2v1h-2zM253.5 326.0h4v1h-4zM260.5 326.0h2v1h-2zM264.5 326.0h2v1h-2zM244.5 327.0h6v1h-6zM252.5 327.0h5v1h-5zM260.5 327.0h6v1h-6zM244.5 328.0h11v1h-11zM259.5 328.0h7v1h-7zM244.5 329.0h9v1h-9zM255.5 329.0h2v1h-2zM258.5 329.0h4v1h-4zM264.5 329.0h2v1h-2zM244.5 330.0h8v1h-8zM254.5 330.0h4v1h-4zM259.5 330.0h3v1h-3zM246.5 331.0h5v1h-5zM253.5 331.0h4v1h-4zM259.5 331.0h5v1h-5zM246.5 332.0h5v1h-5zM253.5 332.0h3v1h-3zM259.5 332.0h6v1h-6zM244.5 333.0h6v1h-6zM251.5 333.0h2v1h-2zM254.5 333.0h2v1h-2zM257.5 333.0h2v1h-2zM262.5 333.0h3v1h-3zM244.5 334.0h6v1h-6zM254.5 334.0h5v1h-5zM262.5 334.0h4v1h-4zM245.5 335.0h5v1h-5zM254.5 335.0h8v1h-8zM263.5 335.0h3v1h-3zM246.5 336.0h3v1h-3zM251.5 336.0h11v1h-11zM263.5 336.0h3v1h-3zM247.5 337.0h1v1h-1zM250.5 337.0h3v1h-3zM254.5 337.0h3v1h-3zM260.5 337.0h2v1h-2zM264.5 337.0h2v1h-2zM244.5 338.0h7v1h-7zM255.5 338.0h2v1h-2zM260.5 338.0h1v1h-1zM265.5 338.0h1v1h-1zM244.5 339.0h7v1h-7zM252.5 339.0h1v1h-1zM255.5 339.0h4v1h-4zM245.5 340.0h4v1h-4zM250.5 340.0h6v1h-6zM257.5 340.0h3v1h-3zM263.5 340.0h1v1h-1zM265.5 340.0h1v1h-1zM247.5 341.0h6v1h-6zM254.5 341.0h7v1h-7zM263.5 341.0h1v1h-1zM247.5 342.0h6v1h-6zM254.5 342.0h7v1h-7zM244.5 343.0h11v1h-11zM257.5 343.0h3v1h-3zM262.5 343.0h2v1h-2zM244.5 344.0h10v1h-10zM262.5 344.0h2v1h-2zM244.5 345.0h1v1h-1zM249.5 345.0h5v1h-5zM260.5 345.0h5v1h-5zM250.5 346.0h5v1h-5zM257.5 346.0h4v1h-4zM263.5 346.0h2v1h-2z" fill="#dd2a20" filter="url(#bl)"/>
<path d="M141.8 362.9h24v1h-24zM141.8 363.9h24v1h-24zM141.8 364.9h24v1h-24zM141.8 365.9h1v1h-1zM143.8 365.9h22v1h-22zM141.8 366.9h1v1h-1zM143.8 366.9h19v1h-19zM163.8 366.9h2v1h-2zM141.8 367.9h24v1h-24zM141.8 368.9h24v1h-24zM141.8 369.9h24v1h-24zM141.8 370.9h24v1h-24zM141.8 371.9h18v1h-18zM160.8 371.9h5v1h-5zM141.8 372.9h24v1h-24zM141.8 373.9h21v1h-21zM163.8 373.9h2v1h-2zM141.8 374.9h24v1h-24zM141.8 375.9h24v1h-24zM141.8 376.9h11v1h-11zM153.8 376.9h11v1h-11zM141.8 377.9h24v1h-24zM141.8 378.9h24v1h-24zM141.8 379.9h24v1h-24zM141.8 380.9h10v1h-10zM152.8 380.9h13v1h-13zM141.8 381.9h24v1h-24zM141.8 382.9h24v1h-24zM141.8 383.9h24v1h-24z" fill="#e0301f" filter="url(#bl)"/>
<path d="M195.6 364.0h2v1h-2zM198.6 364.0h4v1h-4zM205.6 364.0h3v1h-3zM210.6 364.0h2v1h-2zM213.6 364.0h2v1h-2zM195.6 365.0h1v1h-1zM201.6 365.0h2v1h-2zM204.6 365.0h2v1h-2zM210.6 365.0h2v1h-2zM213.6 365.0h1v1h-1zM199.6 366.0h4v1h-4zM204.6 366.0h1v1h-1zM208.6 366.0h2v1h-2zM195.6 367.0h1v1h-1zM197.6 367.0h1v1h-1zM199.6 367.0h2v1h-2zM204.6 367.0h1v1h-1zM207.6 367.0h4v1h-4zM212.6 367.0h2v1h-2zM194.6 368.0h2v1h-2zM200.6 368.0h4v1h-4zM206.6 368.0h2v1h-2zM209.6 368.0h1v1h-1zM213.6 368.0h1v1h-1zM194.6 369.0h3v1h-3zM199.6 369.0h4v1h-4zM204.6 369.0h1v1h-1zM206.6 369.0h1v1h-1zM209.6 369.0h1v1h-1zM211.6 369.0h1v1h-1zM213.6 369.0h2v1h-2zM196.6 370.0h1v1h-1zM199.6 370.0h2v1h-2zM202.6 370.0h2v1h-2zM206.6 370.0h2v1h-2zM212.6 370.0h2v1h-2zM194.6 371.0h6v1h-6zM202.6 371.0h2v1h-2zM205.6 371.0h1v1h-1zM209.6 371.0h1v1h-1zM211.6 371.0h3v1h-3zM195.6 372.0h2v1h-2zM203.6 372.0h10v1h-10zM214.6 372.0h1v1h-1zM195.6 373.0h4v1h-4zM201.6 373.0h3v1h-3zM205.6 373.0h2v1h-2zM208.6 373.0h2v1h-2zM212.6 373.0h1v1h-1zM195.6 374.0h4v1h-4zM201.6 374.0h1v1h-1zM204.6 374.0h1v1h-1zM207.6 374.0h1v1h-1zM210.6 374.0h4v1h-4zM195.6 375.0h7v1h-7zM203.6 375.0h1v1h-1zM205.6 375.0h1v1h-1zM207.6 375.0h1v1h-1zM210.6 375.0h3v1h-3zM214.6 375.0h1v1h-1zM197.6 376.0h1v1h-1zM202.6 376.0h2v1h-2zM208.6 376.0h1v1h-1zM210.6 376.0h2v1h-2zM213.6 376.0h2v1h-2zM196.6 377.0h5v1h-5zM203.6 377.0h1v1h-1zM207.6 377.0h1v1h-1zM209.6 377.0h2v1h-2zM214.6 377.0h1v1h-1zM195.6 378.0h5v1h-5zM203.6 378.0h1v1h-1zM206.6 378.0h1v1h-1zM210.6 378.0h1v1h-1zM194.6 379.0h5v1h-5zM200.6 379.0h3v1h-3zM204.6 379.0h3v1h-3zM208.6 379.0h2v1h-2zM213.6 379.0h1v1h-1zM195.6 380.0h2v1h-2zM200.6 380.0h4v1h-4zM206.6 380.0h4v1h-4zM211.6 380.0h1v1h-1zM194.6 381.0h1v1h-1zM199.6 381.0h1v1h-1zM202.6 381.0h3v1h-3zM206.6 381.0h6v1h-6zM213.6 381.0h1v1h-1zM195.6 382.0h1v1h-1zM200.6 382.0h1v1h-1zM204.6 382.0h1v1h-1zM209.6 382.0h1v1h-1zM212.6 382.0h1v1h-1zM198.6 383.0h1v1h-1zM203.6 383.0h1v1h-1zM206.6 383.0h4v1h-4zM211.6 383.0h1v1h-1zM214.6 383.0h1v1h-1z" fill="#d92c22" filter="url(#bl)"/>
<path d="M253.7 366.4h1v1h-1zM248.7 367.4h1v1h-1zM260.7 367.4h1v1h-1zM251.7 368.4h1v1h-1zM259.7 368.4h1v1h-1zM248.7 369.4h3v1h-3zM252.7 369.4h1v1h-1zM258.7 369.4h1v1h-1zM261.7 369.4h2v1h-2zM253.7 370.4h2v1h-2zM256.7 370.4h1v1h-1zM258.7 370.4h1v1h-1zM260.7 370.4h1v1h-1zM262.7 370.4h1v1h-1zM252.7 371.4h4v1h-4zM258.7 371.4h1v1h-1zM261.7 371.4h1v1h-1zM247.7 372.4h1v1h-1zM258.7 372.4h2v1h-2zM247.7 373.4h2v1h-2zM254.7 373.4h1v1h-1zM257.7 373.4h1v1h-1zM259.7 373.4h1v1h-1zM254.7 374.4h1v1h-1zM257.7 374.4h2v1h-2zM261.7 374.4h1v1h-1zM248.7 375.4h1v1h-1zM253.7 375.4h1v1h-1zM258.7 375.4h2v1h-2zM261.7 375.4h3v1h-3zM250.7 376.4h1v1h-1zM257.7 376.4h1v1h-1zM259.7 376.4h1v1h-1zM247.7 377.4h2v1h-2zM252.7 377.4h1v1h-1zM248.7 378.4h3v1h-3zM257.7 378.4h1v1h-1zM261.7 378.4h1v1h-1zM249.7 379.4h1v1h-1zM255.7 379.4h1v1h-1zM258.7 379.4h4v1h-4zM263.7 379.4h1v1h-1zM246.7 380.4h2v1h-2zM252.7 380.4h1v1h-1zM254.7 380.4h1v1h-1z" fill="#dc2c22" filter="url(#bl)"/>
<g filter="url(#bl)"><rect x="142.4" y="287.8" width="25.1" height="20.6" fill="#e4361e"/>
<g fill="#000"><circle cx="143.3" cy="289.4" r="0.64"/><circle cx="146.8" cy="289.3" r="0.44"/><circle cx="151.0" cy="290.2" r="0.51"/><circle cx="155.1" cy="289.0" r="0.68"/><circle cx="157.8" cy="289.2" r="0.57"/><circle cx="162.8" cy="290.4" r="0.71"/><circle cx="166.2" cy="289.6" r="0.54"/><circle cx="146.4" cy="293.5" r="0.68"/><circle cx="150.4" cy="294.5" r="0.58"/><circle cx="152.5" cy="293.6" r="0.51"/><circle cx="156.4" cy="293.9" r="0.58"/><circle cx="159.8" cy="294.6" r="0.64"/><circle cx="164.6" cy="293.5" r="0.60"/><circle cx="144.8" cy="298.3" r="0.69"/><circle cx="147.8" cy="298.8" r="0.68"/><circle cx="151.9" cy="298.9" r="0.63"/><circle cx="154.9" cy="297.7" r="0.67"/><circle cx="157.8" cy="297.9" r="0.49"/><circle cx="162.3" cy="298.9" r="0.52"/><circle cx="166.3" cy="298.7" r="0.62"/><circle cx="145.5" cy="302.9" r="0.56"/><circle cx="150.0" cy="302.1" r="0.68"/><circle cx="153.6" cy="301.6" r="0.47"/><circle cx="157.4" cy="302.0" r="0.53"/><circle cx="159.4" cy="302.5" r="0.66"/><circle cx="164.7" cy="301.6" r="0.68"/><circle cx="166.9" cy="302.0" r="0.53"/><circle cx="144.3" cy="306.4" r="0.58"/><circle cx="147.8" cy="307.2" r="0.49"/><circle cx="150.8" cy="307.0" r="0.51"/><circle cx="155.3" cy="307.2" r="0.44"/><circle cx="159.1" cy="305.4" r="0.57"/><circle cx="162.0" cy="306.7" r="0.65"/><circle cx="164.8" cy="305.5" r="0.60"/></g></g>
<g filter="url(#bl)"><rect x="193.5" y="290.0" width="24.4" height="18.8" fill="#e2341e"/>
<g fill="#000"><circle cx="194.7" cy="291.8" r="0.96"/><circle cx="199.4" cy="291.2" r="0.91"/><circle cx="201.8" cy="292.3" r="0.85"/><circle cx="206.3" cy="290.9" r="1.03"/><circle cx="209.8" cy="292.4" r="0.83"/><circle cx="211.7" cy="292.4" r="1.24"/><circle cx="216.6" cy="291.5" r="1.14"/><circle cx="197.4" cy="295.4" r="1.06"/><circle cx="200.3" cy="295.8" r="1.10"/><circle cx="203.2" cy="296.5" r="1.25"/><circle cx="207.8" cy="296.2" r="0.75"/><circle cx="210.3" cy="296.4" r="1.13"/><circle cx="214.4" cy="294.9" r="0.99"/><circle cx="195.1" cy="298.6" r="0.76"/><circle cx="199.1" cy="300.1" r="0.80"/><circle cx="201.5" cy="299.3" r="0.84"/><circle cx="206.3" cy="299.6" r="0.97"/><circle cx="210.1" cy="299.8" r="0.85"/><circle cx="212.0" cy="299.5" r="0.90"/><circle cx="217.0" cy="298.6" r="0.90"/><circle cx="196.4" cy="303.6" r="1.17"/><circle cx="201.0" cy="302.5" r="1.19"/><circle cx="203.0" cy="302.9" r="1.24"/><circle cx="208.3" cy="302.2" r="1.09"/><circle cx="210.3" cy="303.3" r="0.86"/><circle cx="213.7" cy="303.2" r="1.04"/><circle cx="196.0" cy="306.4" r="1.19"/><circle cx="199.0" cy="307.3" r="0.75"/><circle cx="202.5" cy="307.9" r="1.00"/><circle cx="206.6" cy="306.8" r="0.84"/><circle cx="209.8" cy="307.5" r="0.77"/><circle cx="213.3" cy="306.8" r="1.18"/><circle cx="215.9" cy="306.3" r="1.19"/></g></g>
<g filter="url(#bl)"><rect x="243.4" y="291.0" width="24.4" height="17.8" fill="#de321f"/>
<g fill="#000"><circle cx="245.2" cy="293.7" r="1.46"/><circle cx="248.2" cy="292.2" r="1.41"/><circle cx="251.4" cy="292.6" r="1.36"/><circle cx="255.4" cy="291.8" r="1.54"/><circle cx="259.9" cy="292.4" r="1.34"/><circle cx="263.5" cy="293.5" r="0.99"/><circle cx="265.6" cy="292.4" r="1.50"/><circle cx="247.1" cy="295.6" r="0.95"/><circle cx="251.3" cy="295.6" r="1.23"/><circle cx="253.6" cy="297.1" r="1.23"/><circle cx="258.0" cy="296.8" r="1.03"/><circle cx="261.0" cy="295.6" r="1.00"/><circle cx="265.0" cy="296.3" r="1.05"/><circle cx="245.5" cy="300.0" r="1.07"/><circle cx="248.1" cy="299.9" r="1.21"/><circle cx="252.1" cy="300.8" r="1.55"/><circle cx="255.6" cy="300.5" r="1.50"/><circle cx="258.5" cy="299.1" r="1.26"/><circle cx="263.3" cy="299.2" r="1.10"/><circle cx="266.9" cy="299.2" r="1.56"/><circle cx="246.4" cy="303.7" r="1.59"/><circle cx="249.9" cy="303.4" r="1.60"/><circle cx="253.3" cy="302.9" r="1.41"/><circle cx="258.0" cy="303.4" r="1.01"/><circle cx="261.1" cy="302.6" r="0.98"/><circle cx="264.0" cy="304.3" r="1.48"/><circle cx="245.2" cy="307.0" r="1.28"/><circle cx="247.9" cy="307.6" r="1.35"/><circle cx="252.6" cy="306.9" r="1.00"/><circle cx="255.8" cy="306.9" r="0.95"/><circle cx="258.2" cy="306.9" r="1.54"/><circle cx="262.4" cy="307.3" r="1.33"/><circle cx="265.5" cy="306.6" r="0.95"/></g></g>
<text x="173.20" y="257.10" font-size="11.3" text-anchor="end" fill="#fff" stroke="#000" stroke-width="0.15">200 h</text>
<text x="224.30" y="257.10" font-size="11.3" text-anchor="end" fill="#fff" stroke="#000" stroke-width="0.15">360 h</text>
<text x="275.20" y="257.10" font-size="11.3" text-anchor="end" fill="#fff" stroke="#000" stroke-width="0.15">650 h</text>
<text x="173.20" y="294.10" font-size="11.3" text-anchor="end" fill="#fff" stroke="#000" stroke-width="0.15">200 h</text>
<text x="224.30" y="294.10" font-size="11.3" text-anchor="end" fill="#fff" stroke="#000" stroke-width="0.15">650 h</text>
<text x="275.20" y="294.10" font-size="11.3" text-anchor="end" fill="#fff" stroke="#000" stroke-width="0.15">1000 h</text>
<text x="173.20" y="330.90" font-size="11.3" text-anchor="end" fill="#fff" stroke="#000" stroke-width="0.15">200 h</text>
<text x="224.30" y="330.90" font-size="11.3" text-anchor="end" fill="#fff" stroke="#000" stroke-width="0.15">360 h</text>
<text x="275.20" y="330.90" font-size="11.3" text-anchor="end" fill="#fff" stroke="#000" stroke-width="0.15">650 h</text>
<text x="173.20" y="369.40" font-size="11.3" text-anchor="end" fill="#fff" stroke="#000" stroke-width="0.15">46 h</text>
<text x="224.30" y="369.40" font-size="11.3" text-anchor="end" fill="#fff" stroke="#000" stroke-width="0.15">195 h</text>
<text x="275.20" y="369.40" font-size="11.3" text-anchor="end" fill="#fff" stroke="#000" stroke-width="0.15">432 h</text>
<rect x="365.8" y="247.6" width="243.8" height="136.20000000000002" fill="none" stroke="#000" stroke-width="1.4"/>
<line x1="365.80" y1="370.18" x2="369.80" y2="370.18" stroke="#000" stroke-width="1.4"/>
<line x1="605.60" y1="370.18" x2="609.60" y2="370.18" stroke="#000" stroke-width="1.4"/>
<line x1="365.80" y1="356.56" x2="369.80" y2="356.56" stroke="#000" stroke-width="1.4"/>
<line x1="605.60" y1="356.56" x2="609.60" y2="356.56" stroke="#000" stroke-width="1.4"/>
<line x1="365.80" y1="342.94" x2="369.80" y2="342.94" stroke="#000" stroke-width="1.4"/>
<line x1="605.60" y1="342.94" x2="609.60" y2="342.94" stroke="#000" stroke-width="1.4"/>
<line x1="365.80" y1="329.32" x2="369.80" y2="329.32" stroke="#000" stroke-width="1.4"/>
<line x1="605.60" y1="329.32" x2="609.60" y2="329.32" stroke="#000" stroke-width="1.4"/>
<line x1="365.80" y1="315.70" x2="371.80" y2="315.70" stroke="#000" stroke-width="1.4"/>
<line x1="603.60" y1="315.70" x2="609.60" y2="315.70" stroke="#000" stroke-width="1.4"/>
<line x1="365.80" y1="302.08" x2="369.80" y2="302.08" stroke="#000" stroke-width="1.4"/>
<line x1="605.60" y1="302.08" x2="609.60" y2="302.08" stroke="#000" stroke-width="1.4"/>
<line x1="365.80" y1="288.46" x2="369.80" y2="288.46" stroke="#000" stroke-width="1.4"/>
<line x1="605.60" y1="288.46" x2="609.60" y2="288.46" stroke="#000" stroke-width="1.4"/>
<line x1="365.80" y1="274.84" x2="369.80" y2="274.84" stroke="#000" stroke-width="1.4"/>
<line x1="605.60" y1="274.84" x2="609.60" y2="274.84" stroke="#000" stroke-width="1.4"/>
<line x1="365.80" y1="261.22" x2="369.80" y2="261.22" stroke="#000" stroke-width="1.4"/>
<line x1="605.60" y1="261.22" x2="609.60" y2="261.22" stroke="#000" stroke-width="1.4"/>
<line x1="387.96" y1="383.80" x2="387.96" y2="380.20" stroke="#000" stroke-width="1.4"/>
<line x1="387.96" y1="247.60" x2="387.96" y2="251.20" stroke="#000" stroke-width="1.4"/>
<line x1="410.12" y1="383.80" x2="410.12" y2="380.20" stroke="#000" stroke-width="1.4"/>
<line x1="410.12" y1="247.60" x2="410.12" y2="251.20" stroke="#000" stroke-width="1.4"/>
<line x1="432.28" y1="383.80" x2="432.28" y2="380.20" stroke="#000" stroke-width="1.4"/>
<line x1="432.28" y1="247.60" x2="432.28" y2="251.20" stroke="#000" stroke-width="1.4"/>
<line x1="454.44" y1="383.80" x2="454.44" y2="380.20" stroke="#000" stroke-width="1.4"/>
<line x1="454.44" y1="247.60" x2="454.44" y2="251.20" stroke="#000" stroke-width="1.4"/>
<line x1="476.60" y1="383.80" x2="476.60" y2="377.30" stroke="#000" stroke-width="1.4"/>
<line x1="476.60" y1="247.60" x2="476.60" y2="254.10" stroke="#000" stroke-width="1.4"/>
<line x1="498.76" y1="383.80" x2="498.76" y2="380.20" stroke="#000" stroke-width="1.4"/>
<line x1="498.76" y1="247.60" x2="498.76" y2="251.20" stroke="#000" stroke-width="1.4"/>
<line x1="520.92" y1="383.80" x2="520.92" y2="380.20" stroke="#000" stroke-width="1.4"/>
<line x1="520.92" y1="247.60" x2="520.92" y2="251.20" stroke="#000" stroke-width="1.4"/>
<line x1="543.08" y1="383.80" x2="543.08" y2="380.20" stroke="#000" stroke-width="1.4"/>
<line x1="543.08" y1="247.60" x2="543.08" y2="251.20" stroke="#000" stroke-width="1.4"/>
<line x1="565.24" y1="383.80" x2="565.24" y2="380.20" stroke="#000" stroke-width="1.4"/>
<line x1="565.24" y1="247.60" x2="565.24" y2="251.20" stroke="#000" stroke-width="1.4"/>
<line x1="587.40" y1="383.80" x2="587.40" y2="377.30" stroke="#000" stroke-width="1.4"/>
<line x1="587.40" y1="247.60" x2="587.40" y2="254.10" stroke="#000" stroke-width="1.4"/>
<path d="M361.90,245.40 L369.70,245.40 L365.80,251.60 Z" fill="#137b78"/>
<path d="M371.60,268.70 L379.40,268.70 L375.50,274.90 Z" fill="#137b78"/>
<path d="M377.30,296.90 L385.10,296.90 L381.20,303.10 Z" fill="#137b78"/>
<path d="M398.10,335.20 L405.90,335.20 L402.00,341.40 Z" fill="#137b78"/>
<path d="M404.70,340.40 L412.50,340.40 L408.60,346.60 Z" fill="#137b78"/>
<path d="M415.20,351.50 L423.00,351.50 L419.10,357.70 Z" fill="#137b78"/>
<path d="M441.40,368.00 L449.20,368.00 L445.30,374.20 Z" fill="#137b78"/>
<circle cx="365.80" cy="248.50" r="2.9" fill="#2a4fa8"/>
<circle cx="370.30" cy="263.40" r="2.9" fill="#2a4fa8"/>
<circle cx="380.90" cy="277.00" r="2.9" fill="#2a4fa8"/>
<circle cx="397.80" cy="295.00" r="2.9" fill="#2a4fa8"/>
<circle cx="409.70" cy="305.90" r="2.9" fill="#2a4fa8"/>
<circle cx="419.50" cy="309.90" r="2.9" fill="#2a4fa8"/>
<circle cx="445.00" cy="322.80" r="2.9" fill="#2a4fa8"/>
<circle cx="461.60" cy="328.60" r="2.9" fill="#2a4fa8"/>
<circle cx="488.30" cy="338.60" r="2.9" fill="#2a4fa8"/>
<circle cx="509.10" cy="344.90" r="2.9" fill="#2a4fa8"/>
<circle cx="551.30" cy="354.30" r="2.9" fill="#2a4fa8"/>
<circle cx="586.90" cy="362.80" r="2.9" fill="#2a4fa8"/>
<rect x="362.90" y="244.70" width="5.2" height="5.2" fill="#fff" stroke="#3d7fc6" stroke-width="1.2"/>
<rect x="367.90" y="254.60" width="5.2" height="5.2" fill="#fff" stroke="#3d7fc6" stroke-width="1.2"/>
<rect x="373.00" y="260.20" width="5.2" height="5.2" fill="#fff" stroke="#3d7fc6" stroke-width="1.2"/>
<rect x="389.20" y="270.00" width="5.2" height="5.2" fill="#fff" stroke="#3d7fc6" stroke-width="1.2"/>
<rect x="398.10" y="272.80" width="5.2" height="5.2" fill="#fff" stroke="#3d7fc6" stroke-width="1.2"/>
<rect x="407.10" y="276.70" width="5.2" height="5.2" fill="#fff" stroke="#3d7fc6" stroke-width="1.2"/>
<rect x="411.60" y="281.70" width="5.2" height="5.2" fill="#fff" stroke="#3d7fc6" stroke-width="1.2"/>
<rect x="442.70" y="288.10" width="5.2" height="5.2" fill="#fff" stroke="#3d7fc6" stroke-width="1.2"/>
<rect x="462.40" y="289.90" width="5.2" height="5.2" fill="#fff" stroke="#3d7fc6" stroke-width="1.2"/>
<rect x="485.70" y="292.40" width="5.2" height="5.2" fill="#fff" stroke="#3d7fc6" stroke-width="1.2"/>
<rect x="506.50" y="295.40" width="5.2" height="5.2" fill="#fff" stroke="#3d7fc6" stroke-width="1.2"/>
<rect x="548.70" y="305.80" width="5.2" height="5.2" fill="#fff" stroke="#3d7fc6" stroke-width="1.2"/>
<rect x="584.80" y="313.40" width="5.2" height="5.2" fill="#fff" stroke="#3d7fc6" stroke-width="1.2"/>
<path d="M365.40,244.65 L368.70,250.15 L362.10,250.15 Z" fill="#fff" stroke="#e2302c" stroke-width="1.25" stroke-linejoin="miter"/>
<path d="M366.80,246.65 L370.10,252.15 L363.50,252.15 Z" fill="#fff" stroke="#e2302c" stroke-width="1.25" stroke-linejoin="miter"/>
<path d="M370.90,249.25 L374.20,254.75 L367.60,254.75 Z" fill="#fff" stroke="#e2302c" stroke-width="1.25" stroke-linejoin="miter"/>
<path d="M376.10,256.85 L379.40,262.35 L372.80,262.35 Z" fill="#fff" stroke="#e2302c" stroke-width="1.25" stroke-linejoin="miter"/>
<path d="M381.70,264.15 L385.00,269.65 L378.40,269.65 Z" fill="#fff" stroke="#e2302c" stroke-width="1.25" stroke-linejoin="miter"/>
<path d="M398.80,276.95 L402.10,282.45 L395.50,282.45 Z" fill="#fff" stroke="#e2302c" stroke-width="1.25" stroke-linejoin="miter"/>
<path d="M409.00,282.65 L412.30,288.15 L405.70,288.15 Z" fill="#fff" stroke="#e2302c" stroke-width="1.25" stroke-linejoin="miter"/>
<path d="M421.00,289.35 L424.30,294.85 L417.70,294.85 Z" fill="#fff" stroke="#e2302c" stroke-width="1.25" stroke-linejoin="miter"/>
<path d="M445.30,297.95 L448.60,303.45 L442.00,303.45 Z" fill="#fff" stroke="#e2302c" stroke-width="1.25" stroke-linejoin="miter"/>
<path d="M488.30,308.05 L491.60,313.55 L485.00,313.55 Z" fill="#fff" stroke="#e2302c" stroke-width="1.25" stroke-linejoin="miter"/>
<path d="M511.20,312.55 L514.50,318.05 L507.90,318.05 Z" fill="#fff" stroke="#e2302c" stroke-width="1.25" stroke-linejoin="miter"/>
<text x="360.50" y="388.40" font-size="13" text-anchor="end" fill="#000">0</text>
<text x="360.50" y="320.30" font-size="13" text-anchor="end" fill="#000">0.5</text>
<text x="360.50" y="252.20" font-size="13" text-anchor="end" fill="#000">1</text>
<text x="365.80" y="398.90" font-size="13" text-anchor="middle" fill="#000">0</text>
<text x="476.60" y="398.90" font-size="13" text-anchor="middle" fill="#000">500</text>
<text x="587.40" y="398.90" font-size="13" text-anchor="middle" fill="#000">1000</text>
<text x="487.70" y="417.80" font-size="13.4" text-anchor="middle" fill="#000">Time (h)</text>
<text transform="translate(333.4,315.5) rotate(-90)" font-size="13.3" text-anchor="middle">Light-emitting area</text>
<circle cx="514.80" cy="259.00" r="2.8" fill="#2a4fa8"/>
<text x="524.00" y="261.80" font-size="9.55" text-anchor="start" fill="#000">Inverted OLED-1</text>
<rect x="512.70" y="267.90" width="5.0" height="5.0" fill="#fff" stroke="#3d7fc6" stroke-width="1.2"/>
<text x="524.00" y="273.20" font-size="9.55" text-anchor="start" fill="#000">Inverted OLED-2</text>
<path d="M514.80,278.95 L518.00,284.25 L511.60,284.25 Z" fill="#fff" stroke="#e2302c" stroke-width="1.25" stroke-linejoin="miter"/>
<text x="524.00" y="284.60" font-size="9.55" text-anchor="start" fill="#000">Inverted OLED-3</text>
<path d="M511.00,289.00 L518.60,289.00 L514.80,295.00 Z" fill="#137b78"/>
<text x="524.00" y="295.60" font-size="9.55" text-anchor="start" fill="#000">Inverted OLED-4</text>
</svg>
</body></html>
